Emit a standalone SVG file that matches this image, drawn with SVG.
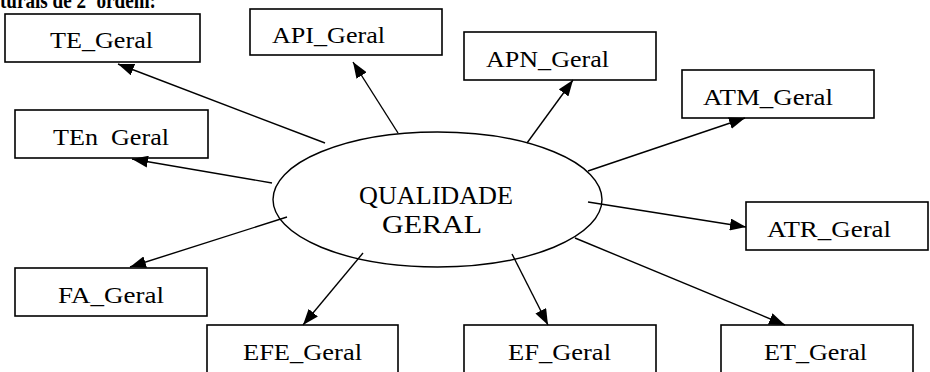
<svg xmlns="http://www.w3.org/2000/svg" width="930" height="372" viewBox="0 0 930 372" font-family="'Liberation Serif', 'Times New Roman', serif">
<style>
.box{fill:#fff;stroke:#000;stroke-width:1.6}
.lbl{font-family:'Liberation Serif', 'Times New Roman', serif;font-size:24px;fill:#000}
.edge{stroke:#000;stroke-width:1.4;fill:none;marker-end:url(#ah)}
</style>
<defs>
<marker id="ah" markerUnits="userSpaceOnUse" markerWidth="16" markerHeight="12" refX="16" refY="6" orient="auto">
<path d="M0,0 L16,6 L0,12 z" fill="#000"/>
</marker>
</defs>
<rect width="930" height="372" fill="#fff"/>
<text x="0" y="8" font-family="'Liberation Serif', 'Times New Roman', serif" font-size="24" font-weight="bold" textLength="156" lengthAdjust="spacingAndGlyphs">turais de 2ª ordem:</text>
<g id="n-TE"><rect class="box" x="5" y="14" width="195" height="48"/><text class="lbl" font-family="'Liberation Serif', serif" x="50" y="48" textLength="103" lengthAdjust="spacingAndGlyphs">TE_Geral</text></g>
<g id="n-API"><rect class="box" x="250" y="9" width="192" height="46"/><text class="lbl" font-family="'Liberation Serif', serif" x="272" y="43" textLength="113" lengthAdjust="spacingAndGlyphs">API_Geral</text></g>
<g id="n-APN"><rect class="box" x="464" y="32" width="192" height="48"/><text class="lbl" font-family="'Liberation Serif', serif" x="486" y="67" textLength="123" lengthAdjust="spacingAndGlyphs">APN_Geral</text></g>
<g id="n-ATM"><rect class="box" x="682" y="70" width="192" height="48"/><text class="lbl" font-family="'Liberation Serif', serif" x="703" y="105" textLength="130" lengthAdjust="spacingAndGlyphs">ATM_Geral</text></g>
<g id="n-TEn"><rect class="box" x="15" y="110" width="193" height="48"/><text class="lbl" font-family="'Liberation Serif', serif" x="53" y="145" textLength="116" lengthAdjust="spacingAndGlyphs" style="white-space:pre">TEn  Geral</text></g>
<g id="n-ATR"><rect class="box" x="746" y="202" width="182" height="48"/><text class="lbl" font-family="'Liberation Serif', serif" x="767" y="237" textLength="124" lengthAdjust="spacingAndGlyphs">ATR_Geral</text></g>
<g id="n-FA"><rect class="box" x="15" y="268" width="192" height="48"/><text class="lbl" font-family="'Liberation Serif', serif" x="58" y="303" textLength="106" lengthAdjust="spacingAndGlyphs">FA_Geral</text></g>
<g id="n-EFE"><rect class="box" x="207" y="325" width="191" height="60"/><text class="lbl" font-family="'Liberation Serif', serif" x="243" y="360" textLength="119" lengthAdjust="spacingAndGlyphs">EFE_Geral</text></g>
<g id="n-EF"><rect class="box" x="464" y="325" width="192" height="60"/><text class="lbl" font-family="'Liberation Serif', serif" x="508" y="360" textLength="103" lengthAdjust="spacingAndGlyphs">EF_Geral</text></g>
<g id="n-ET"><rect class="box" x="721" y="325" width="192" height="60"/><text class="lbl" font-family="'Liberation Serif', serif" x="764" y="360" textLength="103" lengthAdjust="spacingAndGlyphs">ET_Geral</text></g>
<g id="n-QG">
<ellipse cx="437.5" cy="199.5" rx="164.5" ry="67.5" fill="#fff" stroke="#000" stroke-width="1.4"/>
<text class="lbl" font-family="'Liberation Serif', serif" x="359" y="204" style="font-size:26px" textLength="154" lengthAdjust="spacingAndGlyphs">QUALIDADE</text>
<text class="lbl" font-family="'Liberation Serif', serif" x="382" y="233" style="font-size:26px" textLength="100" lengthAdjust="spacingAndGlyphs">GERAL</text>
</g>
<g id="connectors">
<line class="edge" x1="325" y1="143" x2="118" y2="64"/>
<line class="edge" x1="398" y1="133" x2="353" y2="62"/>
<line class="edge" x1="527" y1="143" x2="573" y2="80"/>
<line class="edge" x1="588" y1="171" x2="745" y2="118"/>
<line class="edge" x1="272" y1="183" x2="132" y2="159"/>
<line class="edge" x1="588" y1="202" x2="746" y2="227"/>
<line class="edge" x1="287" y1="217" x2="130" y2="267"/>
<line class="edge" x1="363" y1="253" x2="303" y2="325"/>
<line class="edge" x1="512" y1="254" x2="548" y2="325"/>
<line class="edge" x1="575" y1="238" x2="785" y2="325"/>
</g>
</svg>
